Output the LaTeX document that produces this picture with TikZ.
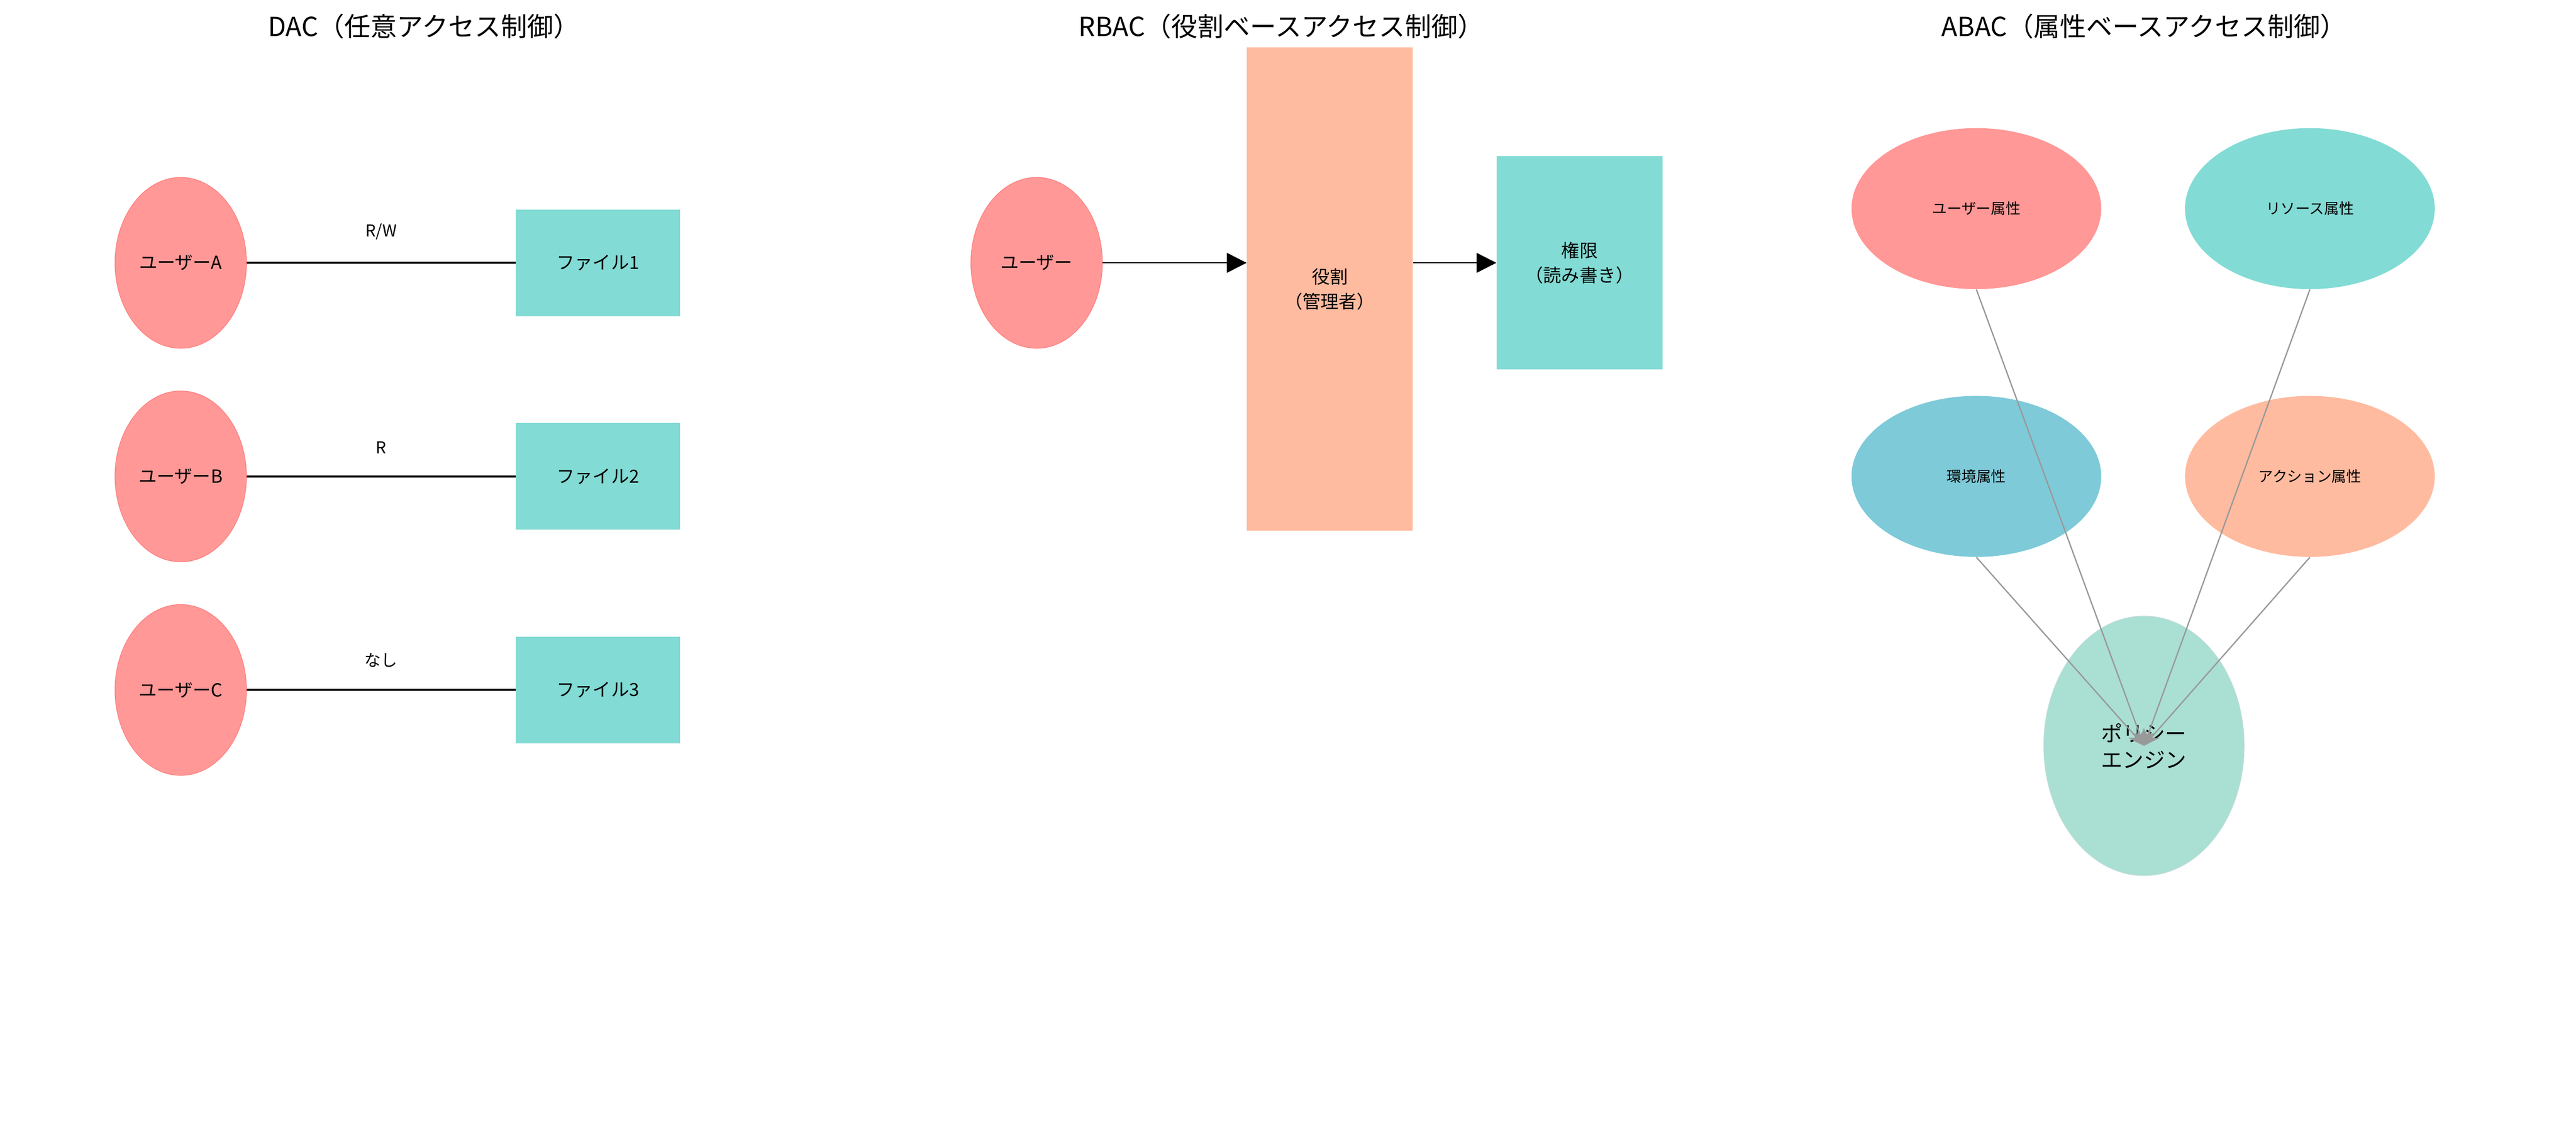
\documentclass[tikz,border=0pt]{standalone}
\usepackage{fontspec}
\setmainfont{Noto Sans CJK JP}
\usetikzlibrary{shapes,positioning,arrows.meta}
\definecolor{usr}{HTML}{FF9896}
\definecolor{usrb}{HTML}{FF7F7F}
\definecolor{res}{HTML}{82DBD4}
\definecolor{rol}{HTML}{FFBBA0}
\definecolor{env}{HTML}{7ECAD9}
\definecolor{pol}{HTML}{AADFD3}
\tikzset{
  user/.style={ellipse,fill=usr,draw=usrb,minimum width=80pt,minimum height=104pt,inner sep=0pt,font=\fontsize{11}{13}\selectfont},
  file/.style={rectangle,fill=res,minimum width=100pt,minimum height=65pt,font=\fontsize{11}{13}\selectfont},
  attr/.style={ellipse,minimum width=152pt,minimum height=98pt,inner sep=0pt,font=\fontsize{9}{11}\selectfont},
  title/.style={font=\fontsize{16}{19}\selectfont},
  link/.style={line width=1.3pt},
  flow/.style={line width=0.8pt,-{Triangle[length=12pt,width=12pt]}},
  ray/.style={draw=gray!80,line width=0.8pt,-{Stealth[length=10pt,width=8pt]}}
}
\begin{document}
\begin{tikzpicture}[x=1pt,y=-1pt]
    \useasboundingbox (0,0) rectangle (1568,692);
    % titles
    \node[title] (tdac) at (258,16) {DAC（任意アクセス制御）};
    \node[title] (trbac) at (780,16) {RBAC（役割ベースアクセス制御）};
    \node[title] (tabac) at (1305,16) {ABAC（属性ベースアクセス制御）};
    % DAC
    \foreach \n/\y/\r in {A/160/R\slash W,B/290/R,C/420/なし}{
        \node[user] (u\n) at (110,\y) {ユーザー\n};
    }
    \node[file] (f1) at (364,160) {ファイル1};
    \node[file] (f2) at (364,290) {ファイル2};
    \node[file] (f3) at (364,420) {ファイル3};
    \draw[link] (uA) -- node[above=10pt,font=\fontsize{10}{12}\selectfont] {R/W} (f1);
    \draw[link] (uB) -- node[above=10pt,font=\fontsize{10}{12}\selectfont] {R} (f2);
    \draw[link] (uC) -- node[above=10pt,font=\fontsize{10}{12}\selectfont] {なし} (f3);
    % RBAC
    \node[user] (ru) at (631,160) {ユーザー};
    \node[rectangle,fill=rol,minimum width=101pt,minimum height=294pt,font=\fontsize{11}{15}\selectfont,align=center] (role) at (809.5,176) {役割\\（管理者）};
    \node[file,minimum height=130pt,minimum width=101pt,align=center,font=\fontsize{11}{15}\selectfont] (perm) at (961.5,160) {権限\\（読み書き）};
    \draw[flow] (ru.east) -- (ru.east -| role.west);
    \draw[flow] (role.east |- ru.east) -- (perm.west);
    % ABAC
    \node[attr,fill=usr] (ua) at (1203,127) {ユーザー属性};
    \node[attr,fill=res] (ra) at (1406,127) {リソース属性};
    \node[attr,fill=env] (ea) at (1203,290) {環境属性};
    \node[attr,fill=rol] (aa) at (1406,290) {アクション属性};
    \node[ellipse,fill=pol,draw=pol!90!black!60,minimum width=122pt,minimum height=158pt,inner sep=0pt,align=center,font=\fontsize{13}{16}\selectfont] (pe) at (1305,454) {ポリシー\\エンジン};
    \foreach \a in {ua,ra,ea,aa}
        \draw[ray] (\a.south) -- (pe.center);
\end{tikzpicture}
\end{document}
